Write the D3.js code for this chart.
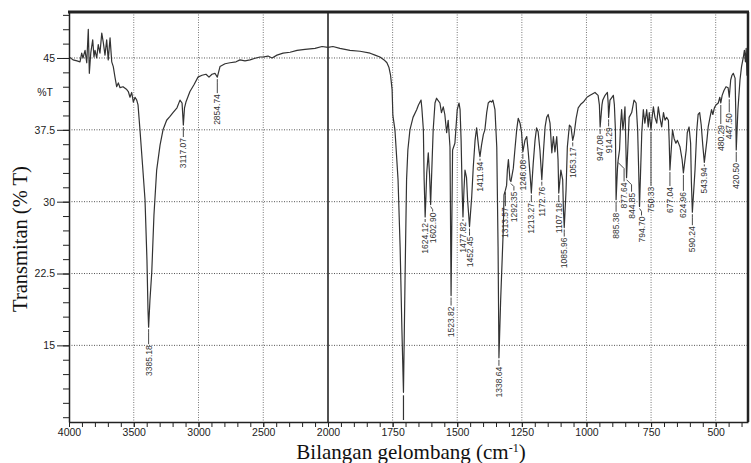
<!DOCTYPE html>
<html><head><meta charset="utf-8">
<script src="https://cdn.jsdelivr.net/npm/d3@7"></script>
<style>body{margin:0;background:#fff}svg{display:block}</style>
</head><body>
<svg id="c" width="751" height="463"></svg>
<script>
// [wavenumber (cm-1), %T]
const spectrum = [
[4000,45.0],[3998,45.1],[3969,44.8],[3938,44.7],[3915,44.6],[3902,45.5],[3892,45.0],[3876,45.8],[3863,44.5],[3851,48.0],[3843,43.4],[3832,45.5],[3817,46.9],[3807,45.1],[3799,45.8],[3786,45.0],[3774,46.4],[3761,45.5],[3747,47.6],[3735,46.6],[3722,45.3],[3709,46.9],[3697,44.8],[3683,47.1],[3670,44.6],[3658,44.1],[3645,43.0],[3632,42.0],[3619,42.4],[3606,41.9],[3583,42.0],[3554,41.7],[3542,41.5],[3529,40.9],[3516,41.4],[3503,40.4],[3490,40.9],[3477,40.6],[3467,40.1],[3452,37.5],[3432,33.8],[3413,30.2],[3398,23.9],[3390,18.7],[3385.18,16.9],[3375,19.7],[3361,22.6],[3344,28.6],[3323,33.3],[3297,35.9],[3274,37.5],[3246,38.5],[3220,38.9],[3197,39.3],[3166,39.8],[3143,40.6],[3127,40.3],[3117.07,38.0],[3108,39.8],[3097,40.4],[3066,41.5],[3035,42.2],[3004,43.0],[2973,43.2],[2942,43.3],[2919,43.0],[2896,43.3],[2873,43.4],[2854.74,43.0],[2834,44.1],[2795,44.4],[2757,44.5],[2710,44.6],[2680,44.8],[2641,44.7],[2602,44.8],[2556,45.0],[2525,45.1],[2502,45.1],[2463,45.2],[2432,45.0],[2394,45.3],[2347,45.5],[2293,45.6],[2239,45.8],[2178,45.9],[2100,46.0],[2046,46.2],[2000,46.1],[1981,46.2],[1954,46.0],[1915,45.8],[1876,45.7],[1837,45.5],[1818,45.3],[1799,45.1],[1783,44.8],[1772,44.5],[1764,44.0],[1758,43.2],[1752,41.7],[1749,39.0],[1741,37.5],[1729,32.3],[1721,25.3],[1714,16.6],[1708,10.1],[1702,21.8],[1696,32.3],[1691,35.4],[1683,37.5],[1671,38.8],[1657,39.6],[1650,40.1],[1644,40.4],[1640,40.6],[1637,39.8],[1631,37.5],[1628,32.3],[1624.12,28.4],[1621,30.6],[1618,33.0],[1612,35.1],[1607,32.8],[1602.9,29.7],[1597,34.4],[1593,37.5],[1586,40.3],[1580,40.8],[1575,40.6],[1567,40.3],[1561,39.3],[1554,39.9],[1548,39.1],[1541,37.2],[1535,38.5],[1528,35.7],[1523.82,20.2],[1518,35.4],[1509,36.1],[1500,39.6],[1493,40.3],[1489,39.6],[1485,36.4],[1481,31.2],[1477.82,28.4],[1474,31.2],[1470,33.3],[1464,32.5],[1460,30.2],[1452.45,27.4],[1444,30.5],[1438,33.6],[1431,36.4],[1425,37.7],[1420,36.4],[1416,35.4],[1411.94,34.7],[1406,35.9],[1399,37.0],[1393,37.5],[1386,39.3],[1380,40.3],[1373,40.5],[1367,40.4],[1362,40.6],[1354,39.6],[1347,35.7],[1342,25.3],[1338.64,13.7],[1332,19.7],[1322,27.0],[1319,30.7],[1313.57,31.2],[1309,31.7],[1306,33.3],[1302,34.4],[1296,32.3],[1292.35,32.1],[1283,33.5],[1277,35.4],[1270,37.5],[1264,38.7],[1257,38.2],[1251,37.2],[1246.08,35.2],[1238,36.4],[1231,36.8],[1225,35.1],[1218,32.8],[1213.27,30.9],[1206,34.0],[1199,36.4],[1193,37.7],[1187,37.3],[1180,35.4],[1172.76,32.3],[1166,35.4],[1160,37.8],[1154,38.8],[1148,39.1],[1141,38.2],[1134,35.1],[1128,36.8],[1122,35.2],[1115,36.8],[1110,34.4],[1107.18,30.9],[1099,33.3],[1092,32.3],[1089,29.1],[1085.96,27.3],[1079,31.2],[1074,35.7],[1066,38.0],[1060,37.8],[1053.17,36.4],[1048,37.0],[1040,38.7],[1032,39.8],[1021,40.2],[1012,40.4],[998,40.9],[986,41.1],[967,41.4],[955,41.1],[950,40.1],[947.08,37.8],[940,40.1],[937,40.6],[928,41.1],[919,41.4],[916,40.3],[914.29,38.8],[909,40.6],[896,41.1],[892,40.1],[888,37.5],[885.38,30.2],[880,33.5],[877.64,34.3],[872,35.4],[868,38.0],[864,39.6],[859,37.5],[855,38.5],[851,39.9],[848,36.4],[844.85,32.5],[835,38.8],[825,39.3],[816,40.6],[808,40.3],[802,37.5],[798,33.3],[794.7,29.5],[786,37.2],[780,39.6],[774,38.2],[767,39.6],[761,37.8],[757,39.3],[750.33,37.5],[746,38.8],[741,39.9],[735,38.8],[728,38.2],[722,39.9],[716,38.8],[709,37.8],[702,39.3],[696,38.5],[690,38.8],[683,38.5],[680,36.4],[677.04,33.3],[667,37.5],[661,36.6],[654,36.1],[648,36.4],[638,35.7],[630,34.4],[624.96,33.0],[614,35.4],[610,37.2],[603,37.8],[597,36.1],[594,32.0],[590.24,28.9],[580,33.3],[573,37.5],[568,39.1],[562,39.3],[556,38.0],[550,35.9],[543.94,34.1],[534,36.4],[529,37.8],[522,38.8],[516,39.6],[511,39.1],[505,39.8],[499,40.1],[490,40.3],[484,40.9],[480.29,40.3],[475,41.1],[468,41.6],[460,42.0],[452,41.9],[447.5,40.9],[442,42.7],[437,43.2],[432,43.4],[425,42.9],[422.5,39.6],[420.5,35.4],[414,39.6],[406,42.7],[400,44.1],[393,45.1],[389,45.8],[385,44.6],[382,46.0],[379,43.2],[377,45.3],[375,45.0]
];

const peakLabels = ["3385.18","3117.07","2854.74","1624.12","1602.90","1523.82","1477.82","1452.45","1411.94","1338.64","1313.57","1292.35","1246.08","1213.27","1172.76","1107.18","1085.96","1053.17","947.08","914.29","885.38","877.64","844.85","794.70","750.33","677.04","624.96","590.24","543.94","480.29","447.50","420.50"];
const unlabelledPeak = 1708;

const xTicks = [4000,3500,3000,2500,2000,1750,1500,1250,1000,750,500];
const yTicks = [15,22.5,30,37.5,45];
const xDomain = [4000,2000,375];
const yDomain = [7,49.8];

// ---------- drawing ----------
const X0=69, XM=328, X1=748, Y0=12, Y1=422;
const svg = d3.select('#c');
const x = d3.scaleLinear().domain(xDomain).range([X0,XM,X1]);
const y = d3.scaleLinear().domain(yDomain).range([Y1,Y0]);
const sans = "'Liberation Sans', Arial, sans-serif";
const serif = "'Liberation Serif', 'Times New Roman', serif";

// grid
svg.append('g').selectAll('line').data(xTicks.filter(v=>v!==4000 && v!==2000)).join('line')
  .attr('x1',d=>x(d)).attr('x2',d=>x(d)).attr('y1',Y0).attr('y2',Y1)
  .attr('stroke','#777').attr('stroke-width',1).attr('stroke-dasharray','1,1.5');
svg.append('g').selectAll('line').data(yTicks).join('line')
  .attr('x1',X0).attr('x2',X1).attr('y1',d=>y(d)).attr('y2',d=>y(d))
  .attr('stroke','#555').attr('stroke-width',1).attr('stroke-dasharray','1,1.5');
svg.append('line').attr('x1',x(2000)).attr('x2',x(2000)).attr('y1',Y0).attr('y2',Y1)
  .attr('stroke','#333').attr('stroke-width',1.7);

// clip
svg.append('clipPath').attr('id','clip').append('rect')
  .attr('x',X0).attr('y',Y0).attr('width',X1-X0).attr('height',Y1-Y0);

// spectrum
svg.append('path').datum(spectrum)
  .attr('clip-path','url(#clip)')
  .attr('d', d3.line().x(d=>x(d[0])).y(d=>y(d[1])))
  .attr('fill','none').attr('stroke','#333').attr('stroke-width',1.2).attr('stroke-linejoin','round');

// peak labels
const labelDrop = {"3385.18":18,"3117.07":13,"2854.74":17,"1624.12":6,"1602.90":8,"1523.82":11,"1477.82":5,"1411.94":5,"1338.64":9,"1313.57":17,"1246.08":8,"1172.76":7,"1053.17":7,"947.08":8,"885.38":13,"877.64":22,"844.85":15,"750.33":57,"677.04":17,"624.96":19,"590.24":14,"543.94":5,"480.29":22,"447.50":16,"420.50":13};
const labelShift = {"1602.90":2,"1292.35":3,"877.64":6,"844.85":5,"794.70":2};
const lg = svg.append('g');
peakLabels.forEach(lbl => {
  const wn = +lbl;
  const pt = spectrum.find(p => Math.abs(p[0]-wn) < 1e-6);
  const px = x(wn), py = y(pt[1]);
  const drop = labelDrop[lbl] ?? 10;
  const lx = px + (labelShift[lbl] || 0);
  const ty = py + drop;
  const bend = Math.min(ty-1, py+2+Math.max(3, Math.abs(lx-px)));
  lg.append('path')
    .attr('d', `M${px},${py+2}L${lx},${bend}L${lx},${ty-1}`)
    .attr('fill','none').attr('stroke','#333').attr('stroke-width',0.9);
  lg.append('text')
    .attr('transform',`translate(${lx},${ty}) rotate(-90)`)
    .attr('text-anchor','end').attr('dominant-baseline','central')
    .attr('font-family',sans).attr('font-size','8.5px').attr('fill','#333')
    .text(lbl);
});
// tick of the unlabelled strong band
{
  const pt = spectrum.find(p => p[0]===unlabelledPeak);
  lg.append('line').attr('x1',x(unlabelledPeak)).attr('x2',x(unlabelledPeak))
    .attr('y1',y(pt[1])+3).attr('y2',Y1-2).attr('stroke','#333').attr('stroke-width',1.2);
}

// axes
function styleAxis(g){
  g.selectAll('text').attr('font-family',sans).attr('font-size','10.5px').attr('fill','#222');
  g.selectAll('line').attr('stroke','#222');
  g.select('.domain').attr('stroke','#222').attr('stroke-width',1.5);
}
const yMinor = d3.range(7.5, 49.8, 1.5);
svg.append('g').attr('transform',`translate(${X0},0)`)
  .call(d3.axisLeft(y).tickValues(yMinor).tickSize(6).tickSizeOuter(0).tickFormat(''))
  .call(g=>g.select('.domain').remove()).call(styleAxis);
svg.append('g').attr('transform',`translate(${X0},0)`)
  .call(d3.axisLeft(y).tickValues(yTicks).tickSize(12).tickSizeOuter(0).tickPadding(2).tickFormat(d=>d))
  .call(styleAxis);

const xMinor = d3.range(4000, 2000, -100).concat(d3.range(2000, 374, -50));
svg.append('g').attr('transform',`translate(0,${Y1})`)
  .call(d3.axisBottom(x).tickValues(xMinor).tickSize(5).tickSizeOuter(0).tickFormat(''))
  .call(g=>g.select('.domain').remove()).call(styleAxis);
svg.append('g').attr('transform',`translate(0,${Y1})`)
  .call(d3.axisBottom(x).tickValues(xTicks).tickSize(5).tickSizeOuter(0).tickPadding(2).tickFormat(d=>d))
  .call(styleAxis);

// frame top/right
svg.append('line').attr('x1',X0-1).attr('x2',X1+1).attr('y1',Y0).attr('y2',Y0).attr('stroke','#222').attr('stroke-width',3);
svg.append('line').attr('x1',X1).attr('x2',X1).attr('y1',Y0).attr('y2',Y1).attr('stroke','#222').attr('stroke-width',2.5);

// %T
svg.append('text').attr('x',53).attr('y',y(41.5)).attr('dominant-baseline','central')
  .attr('text-anchor','end').attr('font-family',sans).attr('font-size','10.5px').attr('fill','#222').text('%T');

// titles
svg.append('text').attr('transform',`translate(20,${(Y0+Y1)/2+22}) rotate(-90)`)
  .attr('text-anchor','middle').attr('dominant-baseline','central')
  .attr('font-family',serif).attr('font-size','20.5px').attr('fill','#111')
  .text('Transmitan (% T)');
const xt = svg.append('text').attr('x',411).attr('y',459).attr('text-anchor','middle')
  .attr('font-family',serif).attr('font-size','21px').attr('fill','#111');
xt.append('tspan').text('Bilangan gelombang (cm');
xt.append('tspan').attr('font-size','12px').attr('dy','-7').text('-1');
xt.append('tspan').attr('dy','7').text(')');
</script>
</body></html>
